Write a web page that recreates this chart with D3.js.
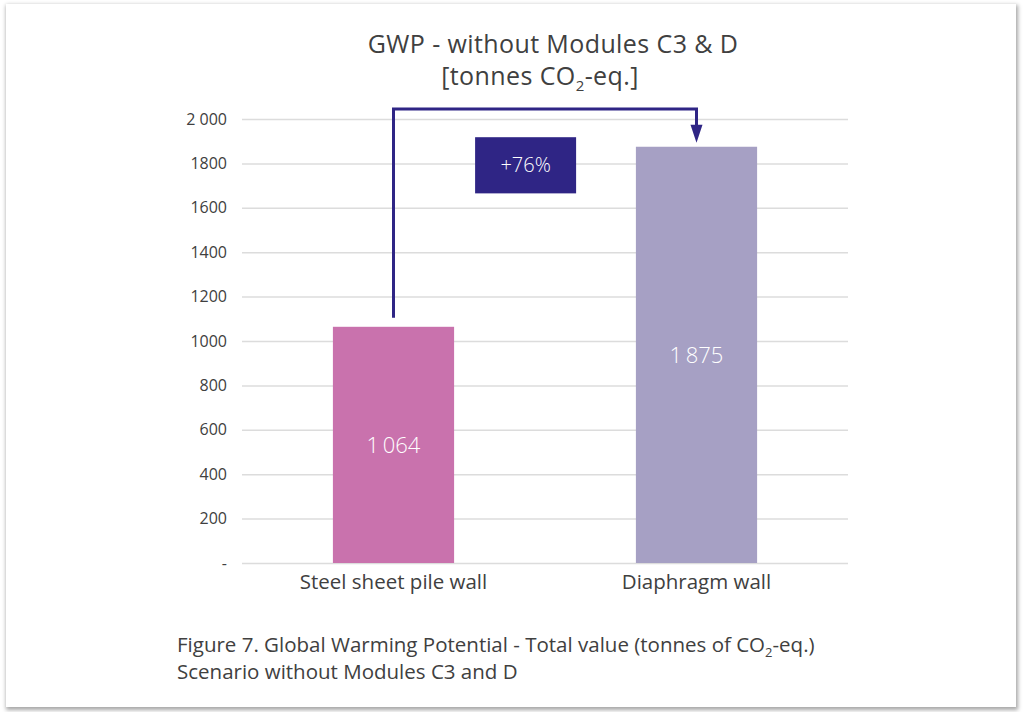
<!DOCTYPE html>
<html>
<head>
<meta charset="utf-8">
<script src="https://cdn.jsdelivr.net/npm/d3@7"></script>
<style>
  html, body { margin: 0; padding: 0; background: #ffffff; }
  #card {
    position: absolute; left: 6px; top: 4px; width: 1010px; height: 703px;
    background: #fff;
    box-shadow: 1px 2px 4px 1px rgba(0,0,0,0.35);
  }
  svg { position: absolute; left: 0; top: 0; }
  text { font-family: "Open Sans", Lato, sans-serif; }
</style>
</head>
<body>
<div id="card"></div>
<svg id="chart" width="1024" height="712"></svg>
<script>
const categories = ["Steel sheet pile wall", "Diaphragm wall"];
const values = [1064, 1875];
const valueLabels = ["1\u2009064", "1\u2009875"];
const barColors = ["#c972ad", "#a6a0c4"];
const yTicks = [0, 200, 400, 600, 800, 1000, 1200, 1400, 1600, 1800, 2000];
const yTickLabels = ["-", "200", "400", "600", "800", "1000", "1200", "1400", "1600", "1800", "2 000"];

const textColor = "#404040",
  gridColor = "#dcdcdc",
  accent = "#2f2585";

const svg = d3.select("#chart");
const margin = { left: 242, right: 176, top: 119, bottom: 149 };
const width = 1024, height = 712;

const x = d3.scaleBand()
  .domain(categories)
  .range([margin.left, width - margin.right])
  .paddingInner(0.6)
  .paddingOuter(0.3);

const y = d3.scaleLinear()
  .domain([0, 2000])
  .range([height - margin.bottom, margin.top]);

// title
const title = svg.append("text")
  .attr("text-anchor", "middle")
  .attr("fill", textColor)
  .attr("font-size", 25)
  .attr("letter-spacing", 0.4);
title.append("tspan").attr("x", 553).attr("y", 53).text("GWP - without Modules C3 & D");
const t2 = title.append("tspan").attr("x", 540).attr("y", 85);
t2.append("tspan").text("[tonnes CO");
t2.append("tspan").attr("font-size", 15).attr("dy", 6).text("2");
t2.append("tspan").attr("dy", -6).text("-eq.]");

// grid + y labels
const gy = svg.append("g")
  .attr("transform", `translate(${margin.left},0)`)
  .call(d3.axisLeft(y)
    .tickValues(yTicks)
    .tickSize(-(width - margin.left - margin.right))
    .tickPadding(15)
    .tickFormat((d, i) => yTickLabels[i]));
gy.select(".domain").remove();
gy.selectAll(".tick line").attr("stroke", gridColor).attr("stroke-width", 1.5);
gy.selectAll(".tick text")
  .attr("fill", textColor)
  .attr("font-size", 16)
  .attr("font-family", "'Open Sans', sans-serif");

// bars
svg.append("g")
  .selectAll("rect")
  .data(values)
  .join("rect")
  .attr("x", (d, i) => x(categories[i]))
  .attr("width", x.bandwidth())
  .attr("y", d => y(d))
  .attr("height", d => y(0) - y(d))
  .attr("fill", (d, i) => barColors[i]);

// value labels
svg.append("g")
  .selectAll("text")
  .data(values)
  .join("text")
  .attr("x", (d, i) => x(categories[i]) + x.bandwidth() / 2)
  .attr("y", d => (y(d) + y(0)) / 2)
  .attr("dy", "0.36em")
  .attr("text-anchor", "middle")
  .attr("fill", "#ffffff")
  .attr("font-size", 22)
  .attr("font-weight", 300)
  .text((d, i) => valueLabels[i]);

// x labels
svg.append("g")
  .selectAll("text")
  .data(categories)
  .join("text")
  .attr("x", d => x(d) + x.bandwidth() / 2)
  .attr("y", y(0) + 26)
  .attr("text-anchor", "middle")
  .attr("fill", textColor)
  .attr("font-size", 20.5)
  .text(d => d);

// change bracket
const cx0 = x(categories[0]) + x.bandwidth() / 2,
  cx1 = x(categories[1]) + x.bandwidth() / 2,
  topY = y(2000) - 10,
  arrowTip = y(values[1]) - 4;
svg.append("path")
  .attr("d", d3.line()([[cx0, y(values[0]) - 9], [cx0, topY], [cx1, topY], [cx1, arrowTip - 14]]))
  .attr("fill", "none")
  .attr("stroke", accent)
  .attr("stroke-width", 3);
svg.append("path")
  .attr("d", d3.line()([[cx1 - 6, arrowTip - 18], [cx1 + 6, arrowTip - 18], [cx1, arrowTip]]) + "Z")
  .attr("fill", accent);

const pct = Math.round((values[1] / values[0] - 1) * 100);
const boxX = x(categories[0]) + x.bandwidth() + 21;
svg.append("rect")
  .attr("x", boxX)
  .attr("y", y(1918))
  .attr("width", 101)
  .attr("height", y(1665) - y(1918))
  .attr("fill", accent);
svg.append("text")
  .attr("x", boxX + 50.5)
  .attr("y", (y(1918) + y(1665)) / 2)
  .attr("dy", "0.36em")
  .attr("text-anchor", "middle")
  .attr("fill", "#ffffff")
  .attr("font-size", 20)
  .attr("font-weight", 300)
  .text(`+${pct}%`);

// caption
const cap = svg.append("text").attr("fill", textColor).attr("font-size", 20.5);
const c1 = cap.append("tspan").attr("x", 177).attr("y", 652);
c1.append("tspan").text("Figure 7. Global Warming Potential - Total value (tonnes of CO");
c1.append("tspan").attr("font-size", 13).attr("dy", 5).text("2");
c1.append("tspan").attr("dy", -5).text("-eq.)");
cap.append("tspan").attr("x", 177).attr("y", 679).text("Scenario without Modules C3 and D");
</script>
</body>
</html>
